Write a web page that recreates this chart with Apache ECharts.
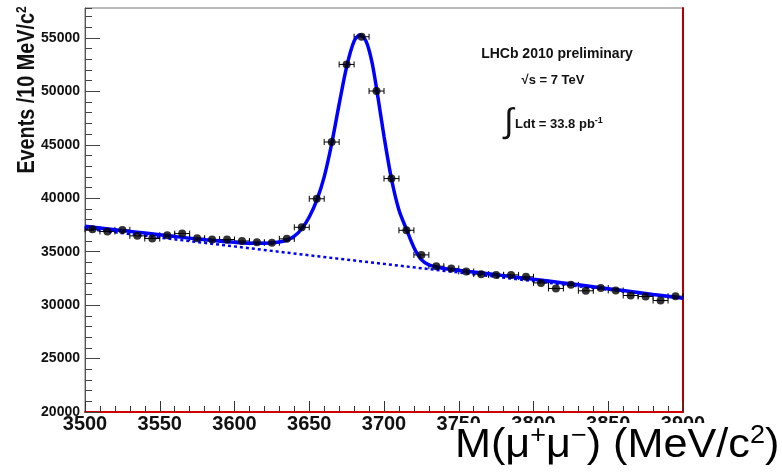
<!DOCTYPE html>
<html>
<head>
<meta charset="utf-8">
<script src="https://cdn.jsdelivr.net/npm/echarts@6/dist/echarts.min.js"></script>
<style>
  html, body { margin: 0; padding: 0; background: #ffffff; }
  #chart { width: 782px; height: 476px; }
</style>
</head>
<body>
<div id="chart"></div>
<script>
// Dimuon invariant mass, 10 MeV bins (bin centres, MeV/c^2)
const binCenters = [
  3505, 3515, 3525, 3535, 3545, 3555, 3565, 3575, 3585, 3595,
  3605, 3615, 3625, 3635, 3645, 3655, 3665, 3675, 3685, 3695,
  3705, 3715, 3725, 3735, 3745, 3755, 3765, 3775, 3785, 3795,
  3805, 3815, 3825, 3835, 3845, 3855, 3865, 3875, 3885, 3895
];
// Events per bin
const events = [
  37100, 36890, 37040, 36480, 36230, 36540, 36690, 36260, 36150, 36140,
  36000, 35880, 35830, 36200, 37280, 39950, 45260, 52520, 55110, 50030,
  41840, 37000, 34700, 33640, 33430, 33150, 32900, 32830, 32830, 32650,
  32080, 31560, 31900, 31340, 31600, 31370, 30900, 30810, 30430, 30840
];
const binHalfWidth = 5;

// Fitted total (signal + background), sampled along the mass axis
const fitMass = [
  3500, 3520, 3540, 3560, 3580, 3600, 3610, 3620, 3630, 3635,
  3640, 3645, 3650, 3655, 3660, 3665, 3670, 3675, 3680, 3684,
  3688, 3692, 3696, 3700, 3705, 3710, 3715, 3720, 3725, 3730,
  3735, 3740, 3760, 3780, 3800, 3820, 3840, 3860, 3880, 3900
];
const fitTotal = [
  37380, 37060, 36740, 36420, 36120, 35880, 35790, 35780, 35900, 36080,
  36450, 37150, 38250, 39800, 42000, 45100, 48800, 52300, 54700, 55300,
  54700, 52700, 49400, 45800, 41800, 38900, 37100, 35400, 34250, 33760,
  33580, 33430, 33090, 32760, 32420, 32080, 31720, 31360, 31000, 30650
];
// Fitted background component
const bgMass = [3500, 3650, 3900];
const bgLevel = [37150, 34660, 30640];

// Axis ranges and tick spacing
const xMin = 3500, xMax = 3900, xStep = 50;
const yMin = 20000, yMax = 57800, yStep = 5000, yMinorStep = 1000;

const font = '"Liberation Sans", Arial, Helvetica, sans-serif';
const chart = echarts.init(document.getElementById('chart'), null, { renderer: 'canvas' });

const pairs = (xs, ys) => xs.map((v, i) => [v, ys[i]]);
const plain = v => String(v);

chart.setOption({
  animation: false,
  backgroundColor: '#ffffff',
  grid: {
    left: 85, right: 99, top: 8, bottom: 64,
    show: true, borderColor: '#777777', borderWidth: 1, backgroundColor: 'transparent'
  },
  xAxis: [
    {
      type: 'value', min: xMin, max: xMax, interval: xStep, position: 'bottom',
      axisLine: { show: true, lineStyle: { color: '#d40000', width: 2 } },
      axisTick: { show: true, inside: true, length: 11, lineStyle: { color: '#333333', width: 1 } },
      minorTick: { show: true, splitNumber: 5, length: 6, lineStyle: { color: '#333333', width: 1 } },
      axisLabel: {
        margin: 2, color: '#111111', fontFamily: font, fontWeight: 'bold',
        fontSize: 20, lineHeight: 20, formatter: plain
      },
      splitLine: { show: false }
    }
  ],
  yAxis: [
    {
      type: 'value', min: yMin, max: yMax, interval: yStep, position: 'left',
      axisLine: { show: true, lineStyle: { color: '#555555', width: 1 } },
      axisTick: { show: true, inside: true, length: 15, lineStyle: { color: '#444444', width: 1 } },
      axisLabel: {
        margin: 5, color: '#111111', fontFamily: font, fontWeight: 'bold',
        fontSize: 14, showMaxLabel: false, formatter: plain
      },
      splitLine: { show: false }
    },
    {
      // minor ticks every 1000 events
      type: 'value', min: yMin, max: yMax, interval: yMinorStep, position: 'left',
      axisLine: { show: false },
      axisTick: { show: true, inside: true, length: 7, lineStyle: { color: '#444444', width: 1 } },
      axisLabel: { show: false },
      splitLine: { show: false }
    },
    {
      // right frame edge
      type: 'value', min: yMin, max: yMax, position: 'right',
      axisLine: { show: true, lineStyle: { color: '#b00000', width: 2 } },
      axisTick: { show: false }, axisLabel: { show: false }, splitLine: { show: false }
    }
  ],
  series: [
    {
      name: 'background',
      type: 'line',
      data: pairs(bgMass, bgLevel),
      showSymbol: false,
      lineStyle: { color: '#0000ff', width: 2.5, type: [3, 3] },
      z: 2
    },
    {
      name: 'errors',
      type: 'custom',
      data: pairs(binCenters, events),
      renderItem: function (params, api) {
        const m = api.value(0), n = api.value(1);
        const l = api.coord([m - binHalfWidth, n]);
        const r = api.coord([m + binHalfWidth, n]);
        const st = { stroke: '#000000', lineWidth: 1 };
        return {
          type: 'group',
          children: [
            { type: 'line', shape: { x1: l[0], y1: l[1], x2: r[0], y2: r[1] }, style: st },
            { type: 'line', shape: { x1: l[0], y1: l[1] - 3, x2: l[0], y2: l[1] + 3 }, style: st },
            { type: 'line', shape: { x1: r[0], y1: r[1] - 3, x2: r[0], y2: r[1] + 3 }, style: st }
          ]
        };
      },
      z: 3
    },
    {
      name: 'fit',
      type: 'line',
      data: pairs(fitMass, fitTotal),
      smooth: 0.3,
      showSymbol: false,
      lineStyle: { color: '#0000ff', width: 3.5 },
      z: 4
    },
    {
      name: 'data',
      type: 'scatter',
      data: pairs(binCenters, events),
      symbol: 'circle',
      symbolSize: 8,
      itemStyle: { color: '#000000' },
      z: 5
    }
  ],
  graphic: [
    {
      type: 'text', x: 28, y: 90, rotation: Math.PI / 2, scaleX: 0.86,
      style: {
        text: '{a|Events /10 MeV/c}{s|2}',
        align: 'center', verticalAlign: 'middle',
        rich: {
          a: { fontFamily: font, fontWeight: 'bold', fontSize: 23, fill: '#111111', lineHeight: 26 },
          s: { fontFamily: font, fontWeight: 'bold', fontSize: 14, fill: '#111111', verticalAlign: 'top', lineHeight: 26 }
        }
      },
      z: 100
    },
    {
      type: 'text', x: 557, y: 54,
      style: { text: 'LHCb 2010 preliminary', fontFamily: font, fontWeight: 'bold', fontSize: 14,
               fill: '#111111', align: 'center', verticalAlign: 'middle' },
      z: 100
    },
    {
      type: 'text', x: 553, y: 80,
      style: { text: '√s = 7 TeV', fontFamily: font, fontWeight: 'bold', fontSize: 13,
               fill: '#111111', align: 'center', verticalAlign: 'middle' },
      z: 100
    },
    {
      type: 'text', x: 509, y: 123,
      style: { text: '∫', fontFamily: font, fontSize: 34, fill: '#111111',
               align: 'center', verticalAlign: 'middle' },
      z: 100
    },
    {
      type: 'text', x: 515, y: 124,
      style: {
        text: '{a|Ldt = 33.8 pb}{s|-1}',
        align: 'left', verticalAlign: 'middle',
        rich: {
          a: { fontFamily: font, fontWeight: 'bold', fontSize: 13, fill: '#111111', lineHeight: 16 },
          s: { fontFamily: font, fontWeight: 'bold', fontSize: 9, fill: '#111111', verticalAlign: 'top', lineHeight: 16 }
        }
      },
      z: 100
    },
    {
      type: 'rect', shape: { x: 458, y: 423, width: 324, height: 53 },
      style: { fill: '#ffffff' }, z: 100
    },
    {
      type: 'text', x: 455, y: 446, scaleX: 1.08,
      style: {
        text: '{a|M(μ}{s|+}{a|μ}{s|−}{a|) (MeV/c}{s|2}{a|)}',
        align: 'left', verticalAlign: 'middle',
        rich: {
          a: { fontFamily: font, fontSize: 40, fill: '#000000', lineHeight: 44 },
          s: { fontFamily: font, fontSize: 25, fill: '#000000', verticalAlign: 'top', lineHeight: 44 }
        }
      },
      z: 101
    }
  ]
});
</script>
</body>
</html>
